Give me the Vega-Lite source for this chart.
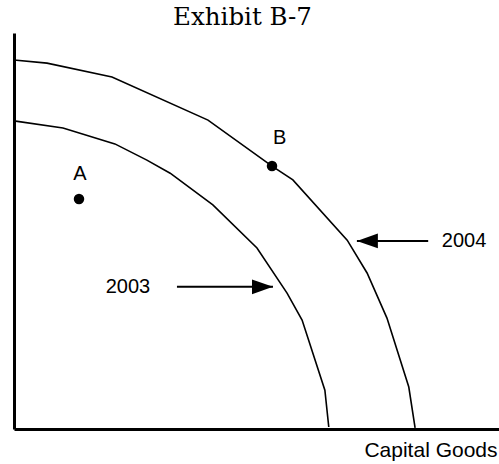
{
  "$schema": "https://vega.github.io/schema/vega-lite/v6.json",
  "width": 485,
  "height": 396,
  "autosize": "none",
  "padding": {"left": 14, "top": 33, "right": 0, "bottom": 35},
  "background": "white",
  "config": {"view": {"stroke": null}},
  "title": {"text": "Exhibit B-7", "font": "DejaVu Serif", "fontSize": 24.5, "fontWeight": "normal", "color": "black", "anchor": "middle", "dx": -14, "offset": 3},
  "datasets": {
    "curves": [
      {"curve": "2004", "i": 0, "capital": 0, "consumer": 93.2},
      {"curve": "2004", "i": 1, "capital": 6.8, "consumer": 92.4},
      {"curve": "2004", "i": 2, "capital": 20.2, "consumer": 88.9},
      {"curve": "2004", "i": 3, "capital": 40.0, "consumer": 78.0},
      {"curve": "2004", "i": 4, "capital": 53.2, "consumer": 66.4},
      {"curve": "2004", "i": 5, "capital": 57.5, "consumer": 62.9},
      {"curve": "2004", "i": 6, "capital": 68.7, "consumer": 47.7},
      {"curve": "2004", "i": 7, "capital": 72.8, "consumer": 39.4},
      {"curve": "2004", "i": 8, "capital": 76.9, "consumer": 28.0},
      {"curve": "2004", "i": 9, "capital": 81.4, "consumer": 10.6},
      {"curve": "2004", "i": 10, "capital": 82.7, "consumer": 0.3},
      {"curve": "2003", "i": 0, "capital": 0, "consumer": 77.8},
      {"curve": "2003", "i": 1, "capital": 10.1, "consumer": 76.0},
      {"curve": "2003", "i": 2, "capital": 20.8, "consumer": 72.0},
      {"curve": "2003", "i": 3, "capital": 27.4, "consumer": 67.9},
      {"curve": "2003", "i": 4, "capital": 32.2, "consumer": 64.6},
      {"curve": "2003", "i": 5, "capital": 41.0, "consumer": 56.6},
      {"curve": "2003", "i": 6, "capital": 50.1, "consumer": 45.7},
      {"curve": "2003", "i": 7, "capital": 56.3, "consumer": 34.3},
      {"curve": "2003", "i": 8, "capital": 59.4, "consumer": 27.5},
      {"curve": "2003", "i": 9, "capital": 64.1, "consumer": 9.8},
      {"curve": "2003", "i": 10, "capital": 64.9, "consumer": 0.5}
    ],
    "points": [
      {"name": "A", "capital": 13.4, "consumer": 58.1, "lx": 13.6, "ly": 64.4},
      {"name": "B", "capital": 53.2, "consumer": 66.4, "lx": 54.8, "ly": 73.5}
    ],
    "arrows": [
      {"label": "2004", "tail": 85.4, "tip": 70.7, "consumer": 47.5, "lx": 92.8, "dir": "left"},
      {"label": "2003", "tail": 33.6, "tip": 53.4, "consumer": 35.9, "lx": 23.5, "dir": "right"}
    ]
  },
  "encoding": {
    "x": {"type": "quantitative", "scale": {"domain": [0, 100], "nice": false, "zero": false}},
    "y": {"type": "quantitative", "scale": {"domain": [0, 100], "nice": false, "zero": false}}
  },
  "layer": [
    {
      "data": {"name": "curves"},
      "mark": {"type": "line", "color": "black", "strokeWidth": 1.6, "interpolate": "linear"},
      "encoding": {
        "x": {"field": "capital", "type": "quantitative",
              "axis": {"title": "Capital Goods", "grid": false, "ticks": false, "labels": false, "domainColor": "black", "domainWidth": 3, "titleFont": "Liberation Sans", "titleFontSize": 21, "titleFontWeight": "normal", "titleColor": "black", "titleAnchor": "end", "titleAlign": "right", "titleX": 483, "titlePadding": 10}},
        "y": {"field": "consumer", "type": "quantitative",
              "axis": {"title": null, "grid": false, "ticks": false, "labels": false, "domainColor": "black", "domainWidth": 3}},
        "detail": {"field": "curve"},
        "order": {"field": "i", "type": "quantitative"}
      }
    },
    {
      "data": {"name": "points"},
      "mark": {"type": "point", "filled": true, "color": "black", "opacity": 1, "size": 110, "shape": "circle"},
      "encoding": {
        "x": {"field": "capital", "type": "quantitative"},
        "y": {"field": "consumer", "type": "quantitative"}
      }
    },
    {
      "data": {"name": "points"},
      "mark": {"type": "text", "font": "Liberation Sans", "fontSize": 20, "color": "black", "align": "center", "baseline": "middle"},
      "encoding": {
        "x": {"field": "lx", "type": "quantitative"},
        "y": {"field": "ly", "type": "quantitative"},
        "text": {"field": "name"}
      }
    },
    {
      "data": {"name": "arrows"},
      "mark": {"type": "rule", "color": "black", "strokeWidth": 2},
      "encoding": {
        "x": {"field": "tail", "type": "quantitative"},
        "x2": {"field": "tip"},
        "y": {"field": "consumer", "type": "quantitative"}
      }
    },
    {
      "data": {"name": "arrows"},
      "transform": [{"filter": "datum.dir == 'left'"}],
      "mark": {"type": "point", "filled": true, "color": "black", "opacity": 1, "size": 440, "shape": "M 0 0 L 2 -0.7 L 2 0.7 Z"},
      "encoding": {
        "x": {"field": "tip", "type": "quantitative"},
        "y": {"field": "consumer", "type": "quantitative"}
      }
    },
    {
      "data": {"name": "arrows"},
      "transform": [{"filter": "datum.dir == 'right'"}],
      "mark": {"type": "point", "filled": true, "color": "black", "opacity": 1, "size": 440, "shape": "M 0 0 L -2 -0.7 L -2 0.7 Z"},
      "encoding": {
        "x": {"field": "tip", "type": "quantitative"},
        "y": {"field": "consumer", "type": "quantitative"}
      }
    },
    {
      "data": {"name": "arrows"},
      "mark": {"type": "text", "font": "Liberation Sans", "fontSize": 20, "color": "black", "align": "center", "baseline": "middle"},
      "encoding": {
        "x": {"field": "lx", "type": "quantitative"},
        "y": {"field": "consumer", "type": "quantitative"},
        "text": {"field": "label"}
      }
    }
  ]
}
